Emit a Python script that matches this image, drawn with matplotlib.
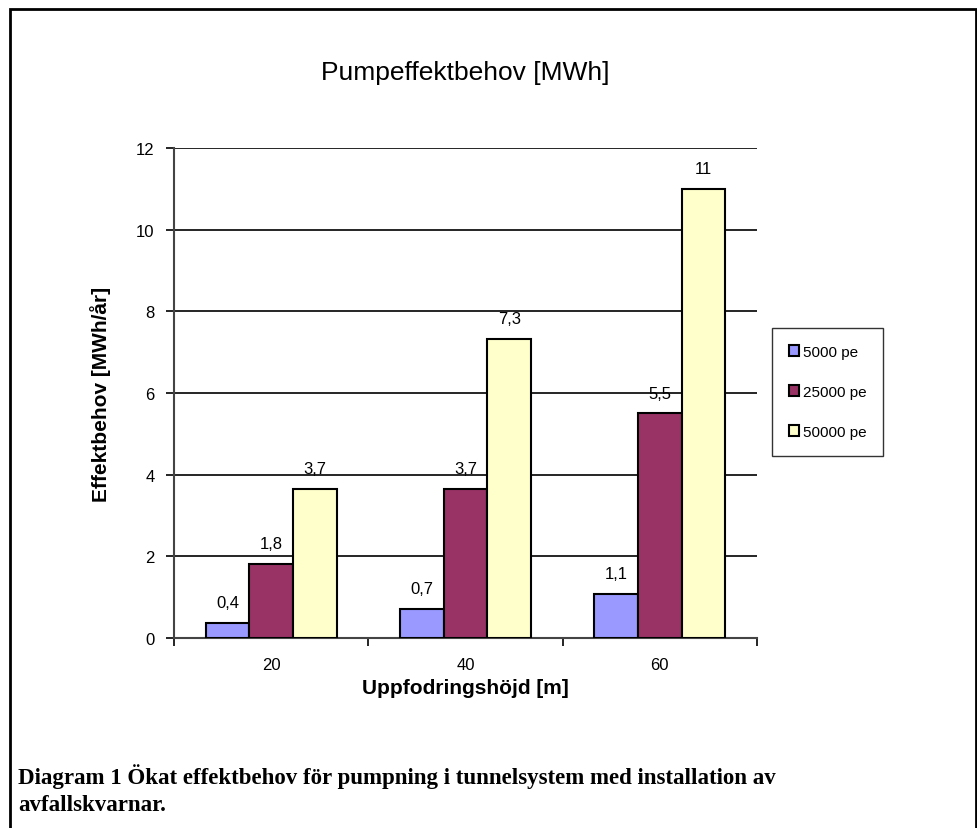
import numpy as np
import matplotlib.pyplot as plt
from matplotlib.patches import Rectangle

# data
heights = ['20', '40', '60']  # Uppfodringshöjd [m]
series = ['5000 pe', '25000 pe', '50000 pe']
pe5000 = [0.37, 0.72, 1.08]
pe25000 = [1.82, 3.66, 5.5]
pe50000 = [3.66, 7.33, 11.0]
colors = ['#9999ff', '#993366', '#ffffcc']

plt.rcParams['font.family'] = ['Liberation Sans', 'DejaVu Sans']

fig = plt.figure(figsize=(9.78, 8.29), dpi=100)

# outer frame of the page box
fig.patches.append(Rectangle((10/978, -0.01), 966/978, 1 - 10/829 + 0.01,
                             transform=fig.transFigure, fill=False,
                             edgecolor='black', linewidth=2))

ax = fig.add_axes([174/978, 1 - 639/829, 583/978, 490/829])

x = np.arange(len(heights))
w = 0.225
values = [pe5000, pe25000, pe50000]


def fmt(v):
    s = f'{v:.1f}'.replace('.', ',')
    return s[:-2] if s.endswith(',0') else s


for i, (name, vals) in enumerate(zip(series, values)):
    pos = x + (i - 1) * w
    ax.bar(pos, vals, width=w, color=colors[i], edgecolor='black',
           linewidth=1.5, label=name, zorder=3)
    for p, v in zip(pos, vals):
        ax.annotate(fmt(v), (p, v), xytext=(0, 9), textcoords='offset points',
                    ha='center', va='bottom', fontsize=12)

ax.set_xlim(-0.5, len(heights) - 0.5)
ax.set_ylim(0, 12)
ax.set_yticks(np.arange(0, 13, 2))
ax.set_xticks(x)
ax.set_xticklabels(heights, fontsize=12)
ax.set_xticks(np.arange(-0.5, len(heights), 1), minor=True)
ax.tick_params(axis='x', which='major', length=0, pad=14)
ax.tick_params(axis='x', which='minor', length=6, width=1.2, direction='out')
ax.tick_params(axis='y', length=6, width=1.2, direction='out', labelsize=12, pad=8)
ax.yaxis.grid(True, color='black', linewidth=1.2, zorder=0)
ax.set_axisbelow(True)
for s in ['top', 'right']:
    ax.spines[s].set_visible(False)
ax.spines['left'].set_linewidth(1.5)
ax.spines['bottom'].set_linewidth(1.5)
ax.spines['left'].set_color('#444444')
ax.spines['bottom'].set_color('#444444')

ax.set_title('Pumpeffektbehov [MWh]', fontsize=19, pad=50)
ax.set_ylabel('Effektbehov [MWh/år]', fontsize=15, fontweight='bold', labelpad=18)
ax.set_xlabel('Uppfodringshöjd [m]', fontsize=15, fontweight='bold', labelpad=4)

leg = ax.legend(loc='center left', bbox_to_anchor=(772/978, 1 - 393/829),
                bbox_transform=fig.transFigure, fontsize=11,
                frameon=True, fancybox=False, edgecolor='black',
                handlelength=0.7, handleheight=0.7, handletextpad=0.2,
                labelspacing=1.7, borderpad=1.1, borderaxespad=0)
leg.get_frame().set_linewidth(1.0)

fig.text(18/978, 1 - 790/829,
         'Diagram 1 Ökat effektbehov för pumpning i tunnelsystem med installation av\navfallskvarnar.',
         family=['Liberation Serif', 'DejaVu Serif'], fontweight='bold',
         fontsize=16.5, va='center', ha='left', linespacing=1.35)

fig.savefig('out.png', dpi=100)
